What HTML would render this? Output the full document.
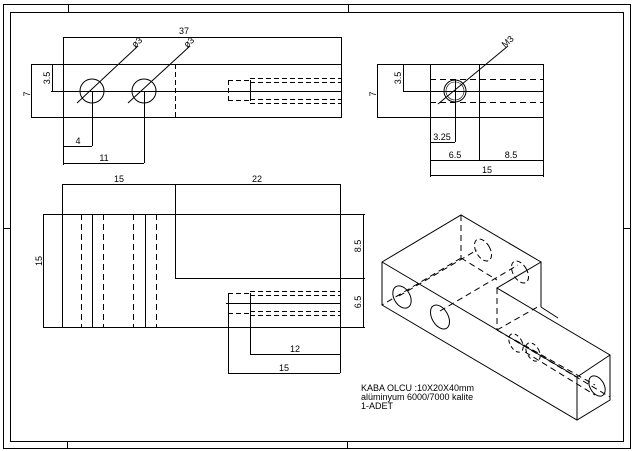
<!DOCTYPE html>
<html><head><meta charset="utf-8"><style>
html,body{margin:0;padding:0;background:#fff;}
svg{display:block;}
text{font-family:"Liberation Sans",sans-serif;font-size:9px;fill:#000;}
</style></head><body>
<svg width="634" height="451" viewBox="0 0 634 451" xmlns="http://www.w3.org/2000/svg">
<g fill="none" stroke="#000" stroke-width="1">
<!-- frame -->
<rect x="3.5" y="4.5" width="627" height="444"/>
<rect x="10.5" y="12.5" width="613" height="429"/>
<line x1="68.5" y1="4" x2="68.5" y2="12"/><line x1="348.5" y1="4" x2="348.5" y2="12"/>
<line x1="67.5" y1="442" x2="67.5" y2="449"/><line x1="347.5" y1="442" x2="347.5" y2="449"/>
<line x1="3" y1="228.5" x2="10" y2="228.5"/><line x1="624" y1="228.5" x2="631" y2="228.5"/>

<!-- top view -->
<rect x="63.5" y="64.5" width="278" height="53"/>
<line x1="31" y1="64.5" x2="63" y2="64.5"/><line x1="31" y1="117.5" x2="63" y2="117.5"/>
<line x1="31.5" y1="64" x2="31.5" y2="117"/>
<line x1="52.5" y1="64" x2="52.5" y2="91"/><line x1="51" y1="91.5" x2="341" y2="91.5"/>
<line x1="63.5" y1="37" x2="63.5" y2="64"/><line x1="341.5" y1="37" x2="341.5" y2="64"/>
<line x1="63" y1="37.5" x2="341" y2="37.5"/>
<circle cx="92" cy="91" r="12"/><circle cx="144" cy="91" r="12"/>
<line x1="77" y1="103" x2="138" y2="46"/><line x1="128" y1="103" x2="190" y2="46"/>
<line x1="92.5" y1="91" x2="92.5" y2="146"/><line x1="144.5" y1="91" x2="144.5" y2="163"/>
<line x1="63.5" y1="117" x2="63.5" y2="165"/>
<line x1="63" y1="146.5" x2="92" y2="146.5"/><line x1="63" y1="163.5" x2="144" y2="163.5"/>
<line x1="175.5" y1="64" x2="175.5" y2="117" stroke-dasharray="5,3"/>
<g stroke-dasharray="5,3">
<line x1="228" y1="80.5" x2="250" y2="80.5"/><line x1="228" y1="100.5" x2="250" y2="100.5"/>
<line x1="228.5" y1="80" x2="228.5" y2="101"/>
<line x1="250" y1="78.5" x2="341" y2="78.5"/><line x1="250" y1="82.5" x2="341" y2="82.5"/>
<line x1="250" y1="99.5" x2="341" y2="99.5"/><line x1="250" y1="103.5" x2="341" y2="103.5"/>
</g>
<line x1="250.5" y1="80" x2="250.5" y2="101"/>

<!-- right view -->
<rect x="430.5" y="64.5" width="113" height="53"/>
<line x1="377" y1="64.5" x2="430" y2="64.5"/><line x1="377" y1="117.5" x2="430" y2="117.5"/>
<line x1="377.5" y1="64" x2="377.5" y2="117"/>
<line x1="403.5" y1="64" x2="403.5" y2="91"/><line x1="403" y1="91.5" x2="543" y2="91.5"/>
<line x1="430" y1="79.5" x2="543" y2="79.5" stroke-dasharray="6,4"/>
<line x1="430" y1="102.5" x2="543" y2="102.5" stroke-dasharray="6,4"/>
<circle cx="455" cy="91" r="11"/><circle cx="455" cy="91" r="9" stroke-width="0.6"/>
<line x1="438" y1="104" x2="508" y2="46"/>
<line x1="479.5" y1="64" x2="479.5" y2="161"/>
<line x1="455.5" y1="79" x2="455.5" y2="142"/><line x1="430" y1="142.5" x2="455" y2="142.5"/>
<line x1="430.5" y1="117" x2="430.5" y2="177"/><line x1="543.5" y1="117" x2="543.5" y2="177"/>
<line x1="430" y1="160.5" x2="543" y2="160.5"/><line x1="430" y1="175.5" x2="543" y2="175.5"/>

<!-- front view -->
<rect x="43.5" y="214.5" width="297" height="113"/>
<line x1="340" y1="214.5" x2="365" y2="214.5"/><line x1="340" y1="327.5" x2="365" y2="327.5"/>
<line x1="62.5" y1="184" x2="62.5" y2="327"/>
<line x1="92.5" y1="214" x2="92.5" y2="327"/><line x1="145.5" y1="214" x2="145.5" y2="327"/>
<g stroke-dasharray="6,4">
<line x1="81.5" y1="214" x2="81.5" y2="327"/><line x1="103.5" y1="214" x2="103.5" y2="327"/>
<line x1="133.5" y1="214" x2="133.5" y2="327"/><line x1="156.5" y1="214" x2="156.5" y2="327"/>
</g>
<line x1="175.5" y1="184" x2="175.5" y2="278"/><line x1="175" y1="278.5" x2="365" y2="278.5"/>
<line x1="340.5" y1="184" x2="340.5" y2="214"/>
<line x1="62" y1="184.5" x2="340" y2="184.5"/>
<line x1="363.5" y1="214" x2="363.5" y2="327"/>
<g stroke-dasharray="5,3">
<line x1="228" y1="293.5" x2="250" y2="293.5"/><line x1="228" y1="313.5" x2="250" y2="313.5"/>
<line x1="250" y1="291.5" x2="340" y2="291.5"/><line x1="250" y1="295.5" x2="340" y2="295.5"/>
<line x1="250" y1="311.5" x2="340" y2="311.5"/><line x1="250" y1="315.5" x2="340" y2="315.5"/>
</g>
<line x1="226" y1="303.5" x2="340" y2="303.5"/>
<line x1="228.5" y1="293" x2="228.5" y2="373"/><line x1="250.5" y1="293" x2="250.5" y2="354"/>
<line x1="340.5" y1="327" x2="340.5" y2="373"/>
<line x1="250" y1="354.5" x2="340" y2="354.5"/><line x1="228" y1="373.5" x2="340" y2="373.5"/>

<!-- isometric -->
<path d="M382 262 L461 215 L541 262 L497 288 L610 355 L610 400 L577 420 L382 305 Z"/>
<line x1="382" y1="262" x2="577" y2="377"/>
<line x1="577" y1="377" x2="610" y2="355"/>
<line x1="577" y1="377" x2="577" y2="420"/>
<line x1="541" y1="262" x2="541" y2="307"/>
<line x1="541" y1="307" x2="558" y2="318"/>
<g stroke-dasharray="6,4">
<line x1="461" y1="215" x2="461" y2="258"/>
<line x1="497" y1="288" x2="497" y2="330"/>
<line x1="461" y1="258" x2="382" y2="305"/>
<line x1="461" y1="258" x2="497" y2="280"/>
<line x1="399" y1="296" x2="477" y2="250"/>
<line x1="440" y1="311" x2="518" y2="265"/>
<line x1="497" y1="330" x2="610" y2="397"/>
<line x1="515" y1="340" x2="595" y2="385"/>
<line x1="525" y1="352" x2="595" y2="395"/>
<line x1="497" y1="330" x2="541" y2="305"/>
</g>
<ellipse cx="402" cy="297" rx="8" ry="12" transform="rotate(-30 402 297)"/>
<ellipse cx="440" cy="317" rx="8" ry="13" transform="rotate(-30 440 317)"/>
<ellipse cx="483" cy="250" rx="7" ry="12" transform="rotate(-30 483 250)" stroke-dasharray="5,3"/>
<ellipse cx="520" cy="272" rx="7" ry="12" transform="rotate(-30 520 272)" stroke-dasharray="5,3"/>
<ellipse cx="516" cy="343" rx="6" ry="10" transform="rotate(-30 516 343)" stroke-dasharray="4,3"/>
<ellipse cx="533" cy="352" rx="6" ry="10" transform="rotate(-30 533 352)" stroke-dasharray="4,3"/>
<ellipse cx="597" cy="386" rx="7" ry="11" transform="rotate(-30 597 386)"/>
</g>
<!-- texts -->
<text x="184" y="34" font-size="9" text-anchor="middle">37</text>
<text x="135" y="48" transform="rotate(-42 135 48)">ø3</text>
<text x="187" y="48" transform="rotate(-42 187 48)">ø3</text>
<text x="30" y="94" transform="rotate(-90 30 94)" text-anchor="middle">7</text>
<text x="50" y="78" transform="rotate(-90 50 78)" text-anchor="middle">3.5</text>
<text x="78" y="144" text-anchor="middle">4</text>
<text x="104" y="161" text-anchor="middle">11</text>
<text x="505" y="48" transform="rotate(-42 505 48)">M3</text>
<text x="376" y="94" transform="rotate(-90 376 94)" text-anchor="middle">7</text>
<text x="401" y="78" transform="rotate(-90 401 78)" text-anchor="middle">3.5</text>
<text x="442" y="140" text-anchor="middle">3.25</text>
<text x="455" y="158" text-anchor="middle">6.5</text>
<text x="511" y="158" text-anchor="middle">8.5</text>
<text x="487" y="173" text-anchor="middle">15</text>
<text x="119" y="182" text-anchor="middle">15</text>
<text x="257" y="182" text-anchor="middle">22</text>
<text x="42" y="261" transform="rotate(-90 42 261)" text-anchor="middle">15</text>
<text x="361" y="246" transform="rotate(-90 361 246)" text-anchor="middle">8.5</text>
<text x="361" y="302" transform="rotate(-90 361 302)" text-anchor="middle">6.5</text>
<text x="295" y="352" text-anchor="middle">12</text>
<text x="284" y="371" text-anchor="middle">15</text>
<text x="361" y="391" font-size="8.5">KABA OLCU :10X20X40mm</text>
<text x="361" y="400" font-size="8.5">alüminyum 6000/7000 kalite</text>
<text x="361" y="409" font-size="8.5">1-ADET</text>
</svg>
</body></html>
